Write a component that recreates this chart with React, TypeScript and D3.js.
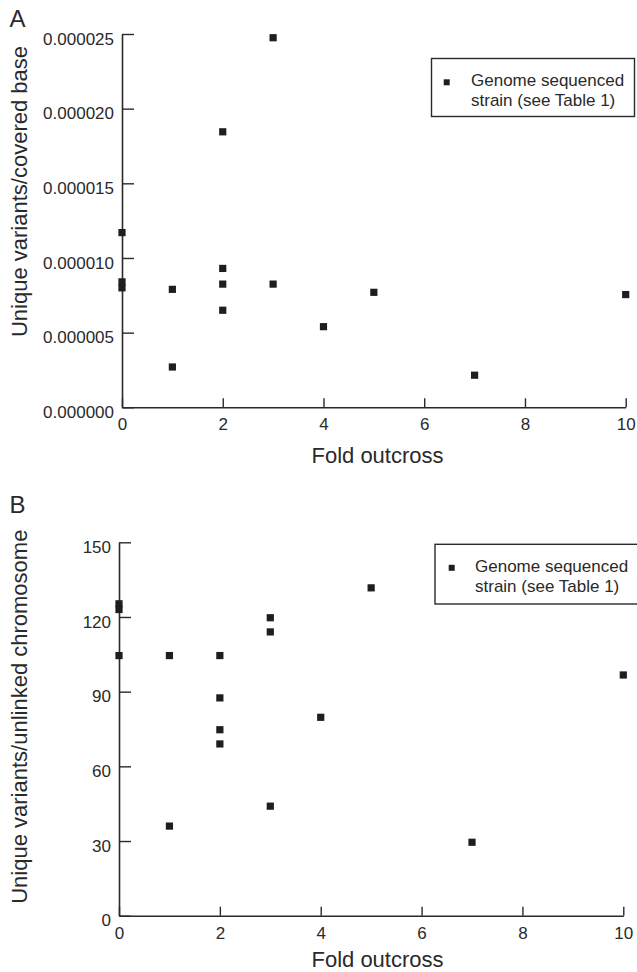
import React, { useEffect, useRef } from 'react'
import * as d3 from 'd3'

// panel A: unique variants per covered base vs fold outcross
const foldA = [0, 0, 0, 1, 1, 2, 2, 2, 2, 3, 3, 4, 5, 7, 10]
const perBaseA = [
  0.0000117, 0.0000084, 0.0000080, 0.0000079, 0.0000027,
  0.00001845, 0.0000093, 0.00000825, 0.0000065,
  0.00002475, 0.00000825, 0.0000054, 0.0000077, 0.00000215, 0.00000755,
]
// panel B: unique variants per unlinked chromosome vs fold outcross
const foldB = [0, 0, 0, 1, 1, 2, 2, 2, 2, 3, 3, 3, 4, 5, 7, 10]
const perChromB = [125.3, 123, 104.5, 104.5, 36, 104.5, 87.5, 74.7, 69, 119.7, 114, 44, 79.7, 131.7, 29.5, 96.7]

const xTicks = [0, 2, 4, 6, 8, 10]
const yTicksA = [0, 0.000005, 0.00001, 0.000015, 0.00002, 0.000025]
const yTicksB = [0, 30, 60, 90, 120, 150]
const legendLines = ['Genome sequenced', 'strain (see Table 1)']

const FONT = '"Liberation Sans", Arial, Helvetica, sans-serif'
const INK = '#1e1e1e'

type Panel = {
  letter: string
  xs: number[]
  ys: number[]
  yTicks: number[]
  yFmt: (v: number) => string
  yTitle: string
  x0: number; x1: number; y0: number; y1: number
  titleCy: number; xTitleY: number; letterY: number
  legend: { x: number; y: number; w: number; h: number; mx: number; my: number; tx: number; ty: number }
}

const panels: Panel[] = [
  {
    letter: 'A', xs: foldA, ys: perBaseA, yTicks: yTicksA, yFmt: d3.format('.6f'),
    yTitle: 'Unique variants/covered base',
    x0: 122, x1: 625.7, y0: 407.3, y1: 34,
    titleCy: 191.5, xTitleY: 463, letterY: 27,
    legend: { x: 431.5, y: 58.5, w: 203, h: 58, mx: 446.7, my: 82.3, tx: 471, ty: 85.5 },
  },
  {
    letter: 'B', xs: foldB, ys: perChromB, yTicks: yTicksB, yFmt: d3.format('d'),
    yTitle: 'Unique variants/unlinked chromosome',
    x0: 119, x1: 623.3, y0: 915.7, y1: 542.3,
    titleCy: 716.7, xTitleY: 966.5, letterY: 513,
    legend: { x: 435, y: 544.3, w: 210, h: 59.7, mx: 451.7, my: 567.8, tx: 475, ty: 571.5 },
  },
]

export default function App() {
  const ref = useRef<SVGSVGElement | null>(null)
  useEffect(() => {
    if (!ref.current) return
    const svg = d3.select(ref.current)
    svg.selectAll('*').remove()
    svg.append('rect').attr('width', 637).attr('height', 972).attr('fill', '#fff')

    panels.forEach(p => {
      const x = d3.scaleLinear().domain([0, 10]).range([p.x0, p.x1])
      const y = d3.scaleLinear().domain([p.yTicks[0], p.yTicks[p.yTicks.length - 1]]).range([p.y0, p.y1])
      const g = svg.append('g')

      // axes, ticks point inward
      const yAx = g.append('g').attr('transform', `translate(${p.x0},0)`)
        .call(d3.axisLeft(y).tickValues(p.yTicks).tickFormat(p.yFmt as any).tickSize(-12).tickSizeOuter(0).tickPadding(8))
      const xAx = g.append('g').attr('transform', `translate(0,${p.y0})`)
        .call(d3.axisBottom(x).tickValues(xTicks).tickSize(-9).tickSizeOuter(0).tickPadding(11))
      ;[yAx, xAx].forEach(ax => {
        ax.select('.domain').attr('stroke', '#2a2a2a').attr('stroke-width', 1.6)
        ax.selectAll('.tick line').attr('stroke', '#2a2a2a').attr('stroke-width', 1.4)
        ax.selectAll('text').attr('fill', '#2a2a2a').style('font-family', FONT).style('font-size', '17px')
      })
      yAx.selectAll('text').attr('dy', '0.6em')

      // points
      g.selectAll('rect.pt').data(p.xs).enter().append('rect').attr('class', 'pt')
        .attr('x', (d, i) => x(d) - 3.6).attr('y', (d, i) => y(p.ys[i]) - 3.6)
        .attr('width', 7.2).attr('height', 7.2).attr('fill', INK)

      // titles
      g.append('text').text(p.yTitle)
        .attr('transform', `translate(26.5,${p.titleCy}) rotate(-90)`)
        .attr('text-anchor', 'middle').attr('fill', '#2a2a2a')
        .style('font-family', FONT).style('font-size', '22px')
      g.append('text').text('Fold outcross')
        .attr('x', 377.5).attr('y', p.xTitleY).attr('text-anchor', 'middle').attr('fill', '#2a2a2a')
        .style('font-family', FONT).style('font-size', '22px')
      g.append('text').text(p.letter).attr('x', 9.5).attr('y', p.letterY).attr('fill', '#2a2a2a')
        .style('font-family', FONT).style('font-size', '24px')

      // legend
      const L = p.legend
      g.append('rect').attr('x', L.x).attr('y', L.y).attr('width', L.w).attr('height', L.h)
        .attr('fill', '#fff').attr('stroke', '#2a2a2a').attr('stroke-width', 1.4)
      g.append('rect').attr('x', L.mx - 3).attr('y', L.my - 3).attr('width', 6).attr('height', 6).attr('fill', INK)
      legendLines.forEach((t, i) => {
        g.append('text').text(t).attr('x', L.tx).attr('y', L.ty + i * 20.6).attr('fill', '#2a2a2a')
          .style('font-family', FONT).style('font-size', '17px')
      })
    })
  }, [])
  return (
    <svg ref={ref} width={637} height={972}
      style={{ position: 'absolute', left: 0, top: 0, display: 'block' }} />
  )
}
